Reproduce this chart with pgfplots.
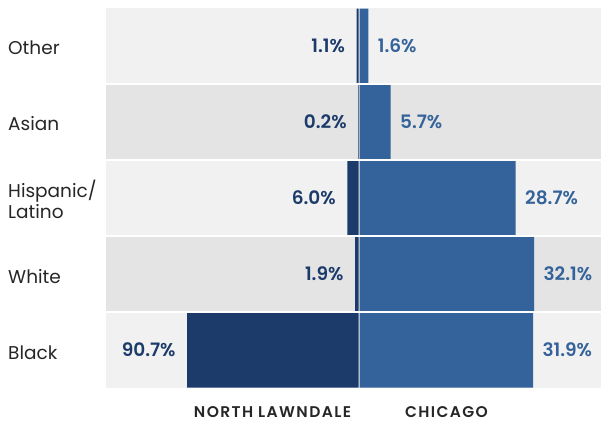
\documentclass[border=0pt]{standalone}
\usepackage{pgfplots}
\pgfplotsset{compat=1.18}
\usepackage{fontspec}
\setmainfont{Poppins}
\newfontfamily\semibold{Poppins SemiBold}
\definecolor{nlblue}{HTML}{1C3B6B}
\definecolor{chiblue}{HTML}{34629A}
\definecolor{bandA}{HTML}{F1F1F1}
\definecolor{bandB}{HTML}{E4E4E4}
\definecolor{txt}{HTML}{262626}

\begin{document}
\begin{tikzpicture}[x=1pt,y=1pt]
\useasboundingbox (0,0) rectangle (602,421);
% background bands, from Black (bottom) to Other (top)
\fill[bandA] (106,33) rectangle (601,109);
\fill[bandB] (106,109) rectangle (601,185);
\fill[bandA] (106,185) rectangle (601,261);
\fill[bandB] (106,261) rectangle (601,337);
\fill[bandA] (106,337) rectangle (601,413);

% North Lawndale, growing to the left
\begin{axis}[
  at={(106pt,33pt)}, anchor=south west,
  width=252.6pt, height=380pt, scale only axis,
  hide axis, clip=false,
  xmin=0, xmax=133.6, x dir=reverse,
  ymin=-0.5, ymax=4.5,
  xbar, bar width=75pt,
  point meta=explicit symbolic,
  nodes near coords,
  every node near coord/.style={anchor=east, xshift=-8pt,
    font=\semibold\fontsize{18.5}{20}\selectfont, text=nlblue},
]
\addplot[fill=nlblue, draw=none] coordinates {
  (90.7,0) [90.7\%]
  (1.9,1)  [1.9\%]
  (6.0,2)  [6.0\%]
  (0.2,3)  [0.2\%]
  (1.1,4)  [1.1\%]
};
\end{axis}

% Chicago, growing to the right
\begin{axis}[
  at={(359.6pt,33pt)}, anchor=south west,
  width=241.4pt, height=380pt, scale only axis,
  hide axis, clip=false,
  xmin=0, xmax=44.4,
  ymin=-0.5, ymax=4.5,
  xbar, bar width=75pt,
  point meta=explicit symbolic,
  nodes near coords,
  every node near coord/.style={anchor=west, xshift=6pt,
    font=\semibold\fontsize{18.5}{20}\selectfont, text=chiblue},
]
\addplot[fill=chiblue, draw=none] coordinates {
  (31.9,0) [31.9\%]
  (32.1,1) [32.1\%]
  (28.7,2) [28.7\%]
  (5.7,3)  [5.7\%]
  (1.6,4)  [1.6\%]
};
\end{axis}

% band separators
\foreach \yy in {109,185,261,337}
  \draw[white, line width=1.5pt] (106,\yy) -- (601,\yy);

% category labels
\begin{scope}[every node/.style={anchor=base west, inner sep=0pt, text=txt,
    font=\fontsize{18.5}{21}\selectfont}]
\node at (8,366) {Other};
\node at (8,290) {Asian};
\node at (8,223.7) {Hispanic/};
\node at (8,203) {Latino};
\node at (8,138) {White};
\node at (8,62) {Black};
\end{scope}

% bottom labels
\begin{scope}[every node/.style={anchor=base, inner sep=0pt, text=txt,
    font=\semibold\fontsize{15.5}{17}\selectfont\addfontfeature{LetterSpace=9}}]
\node at (272.5,4) {NORTH LAWNDALE};
\node at (446.5,4) {CHICAGO};
\end{scope}
\end{tikzpicture}
\end{document}
